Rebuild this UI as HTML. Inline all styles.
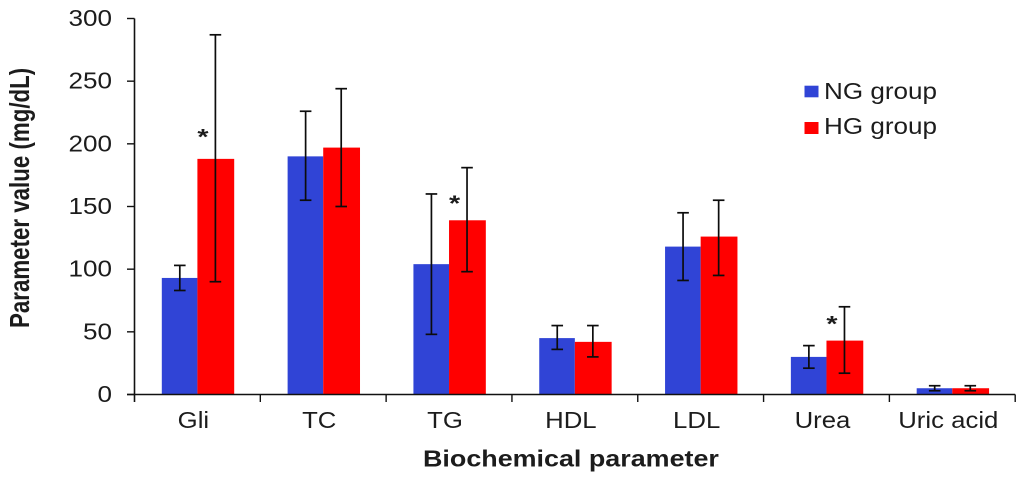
<!DOCTYPE html>
<html>
<head>
<meta charset="utf-8">
<title>Biochemical parameters chart</title>
<style>
html,body{margin:0;padding:0;background:#fff;width:1024px;height:478px;overflow:hidden}
svg{display:block;filter:blur(0.35px)}
text{font-family:"Liberation Sans",Arial,sans-serif;fill:#1c1c1c}
</style>
</head>
<body>
<svg id="chart" xmlns="http://www.w3.org/2000/svg" width="1024" height="478" viewBox="0 0 1024 478">
  <rect x="0" y="0" width="1024" height="478" fill="#fff"/>
  <g id="bars"></g>
  <g id="errors"></g>
  <g id="stars"></g>
  <g id="axes"></g>
  <text transform="translate(29,328) rotate(-90) scale(1,1.25)" font-size="22.3" font-weight="bold">Parameter value (mg/dL)</text>
  <text transform="translate(423,466.5) scale(1.18,1)" font-size="22.8" font-weight="bold">Biochemical parameter</text>
  <g>
    <g>
      <rect x="804.5" y="85.7" width="14" height="11.6" fill="#3044d6"/>
      <text transform="translate(824,99) scale(1.11,1)" font-size="23.5">NG group</text>
    </g>
    <g>
      <rect x="804.5" y="122" width="14" height="12" fill="#ff0000"/>
      <text transform="translate(824,134) scale(1.11,1)" font-size="23.5">HG group</text>
    </g>
  </g>
</svg>
<script>
const categories = ['Gli', 'TC', 'TG', 'HDL', 'LDL', 'Urea', 'Uric acid'];
const ngValues = [93, 190, 104, 45, 118, 30, 5];
const hgValues = [188, 197, 139, 42, 126, 43, 5];
const ngErrLow = [83, 155, 48, 36, 91, 21, 3];
const ngErrHigh = [103, 226, 160, 55, 145, 39, 7];
const hgErrLow = [90, 150, 98, 30, 95, 17, 3];
const hgErrHigh = [287, 244, 181, 55, 155, 70, 7];
const starValues = [207, null, 154, null, null, 58, null];
const yTicks = [0, 50, 100, 150, 200, 250, 300];

const NS = 'http://www.w3.org/2000/svg';
const plotLeft = 134.5, plotRight = 1015.2, plotBottom = 394.5, plotTop = 18.5, yMax = 300;
const band = (plotRight - plotLeft) / categories.length;
function yScale(v) { return plotBottom - (v / yMax) * (plotBottom - plotTop); }
function xBand(i) { return plotLeft + i * band; }
function barX(i, s) { return xBand(i) + 27.3 + s * 35.6; }
function make(tag, attrs, parent) {
  const el = document.createElementNS(NS, tag);
  for (const k in attrs) el.setAttribute(k, attrs[k]);
  parent.appendChild(el);
  return el;
}
const barsG = document.getElementById('bars');
const errG = document.getElementById('errors');
const starG = document.getElementById('stars');
const axesG = document.getElementById('axes');

function drawBar(i, s, v, color, name) {
  const r = make('rect', { x: barX(i, s), y: yScale(v), width: s === 0 ? 35.6 : 36.8, height: plotBottom - yScale(v), fill: color }, barsG);
  
  
}
function drawError(i, s, lo, hi, name) {
  const cx = barX(i, s) + 18;
  const g = make('g', { stroke: '#0c0c0c', 'stroke-width': 1.7, fill: 'none' }, errG);
  
  
  make('line', { x1: cx, x2: cx, y1: yScale(lo), y2: yScale(hi) }, g);
  make('line', { x1: cx - 5.8, x2: cx + 5.8, y1: yScale(lo), y2: yScale(lo) }, g);
  make('line', { x1: cx - 5.8, x2: cx + 5.8, y1: yScale(hi), y2: yScale(hi) }, g);
}
categories.forEach(function (c, i) {
  drawBar(i, 0, ngValues[i], '#3044d6', 'bar-ng-' + i);
  drawBar(i, 1, hgValues[i], '#ff0000', 'bar-hg-' + i);
  drawError(i, 0, ngErrLow[i], ngErrHigh[i], 'error-bar-ng-' + i);
  drawError(i, 1, hgErrLow[i], hgErrHigh[i], 'error-bar-hg-' + i);
  if (starValues[i] !== null) {
    const t = make('text', { transform: 'translate(' + (barX(i, 1) + 5.5) + ',' + (yScale(starValues[i]) + 9.5) + ') scale(1.3,1)', 'font-size': 22, 'font-weight': 'bold', 'text-anchor': 'middle' }, starG);
    t.textContent = '*';
    
    
  }
  const lbl = make('text', { transform: 'translate(' + (xBand(i) + band / 2 - 4) + ',428) scale(1.12,1)', 'font-size': 23, 'text-anchor': 'middle' }, axesG);
  lbl.textContent = c;
  
  
});

const yAxis = make('line', { x1: plotLeft, x2: plotLeft, y1: plotTop, y2: plotBottom + 7.5, stroke: '#111', 'stroke-width': 1.6 }, axesG);


const xAxis = make('line', { x1: plotLeft - 7.5, x2: plotRight, y1: plotBottom, y2: plotBottom, stroke: '#111', 'stroke-width': 1.6 }, axesG);



yTicks.forEach(function (v) {
  const y = yScale(v);
  const tk = make('line', { x1: plotLeft - 7.5, x2: plotLeft, y1: y, y2: y, stroke: '#111', 'stroke-width': 1.4 }, axesG);
  
  
  const t = make('text', { transform: 'translate(112,' + (y + 7.5) + ') scale(1.11,1)', 'font-size': 23.5, 'text-anchor': 'end' }, axesG);
  t.textContent = v;
  
  
});
for (let i = 1; i <= categories.length; i++) {
  const x = xBand(i);
  const tk = make('line', { x1: x, x2: x, y1: plotBottom, y2: plotBottom + 7.5, stroke: '#111', 'stroke-width': 1.4 }, axesG);
  
  
}
</script>
</body>
</html>
